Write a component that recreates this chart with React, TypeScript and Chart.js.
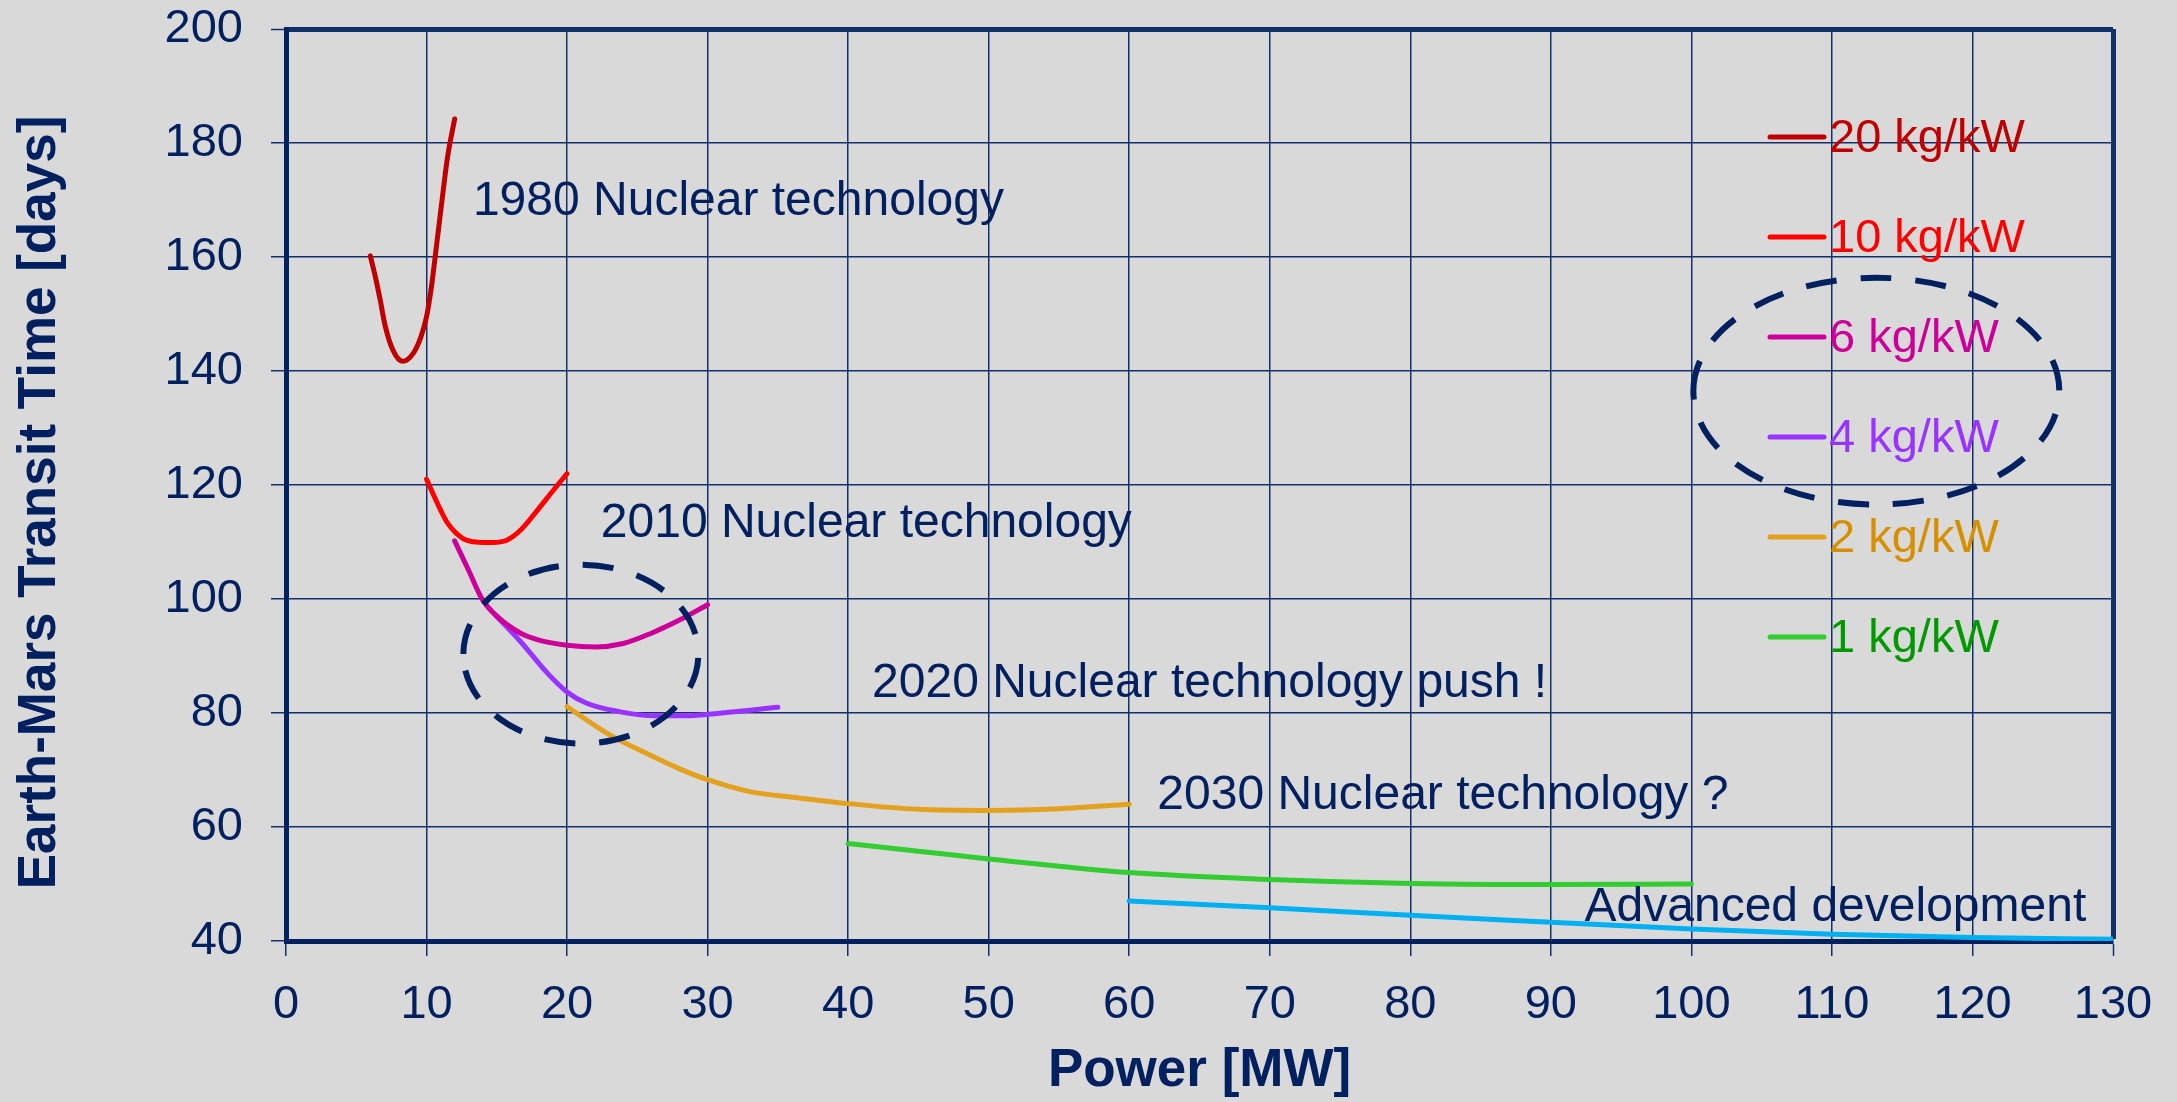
import React, { useEffect, useRef } from 'react';
import { Chart, registerables } from 'chart.js';
Chart.register(...registerables);

// ---------- data ----------
const seriesLabels = ['20 kg/kW', '10 kg/kW', '6 kg/kW', '4 kg/kW', '2 kg/kW', '1 kg/kW'];
const advancedLabel = 'Advanced development';

const p20x = [6, 6.35, 6.7, 7.05, 7.6, 8.3, 9.05, 9.6, 10, 10.35, 10.7, 11.05, 11.5, 12];
const p20y = [160.2, 156.6, 152.5, 148, 143.7, 141.7, 143.1, 146, 149.5, 154.8, 161.8, 168.9, 177.6, 184.2];

const p10x = [10, 11, 11.5, 12.6, 13.5, 14.7, 15.7, 16.7, 17.9, 19, 20];
const p10y = [121, 115.6, 113.3, 110.6, 110, 109.9, 110.3, 112.1, 115.6, 119, 122];

const p6x = [12, 13, 14, 15, 16.7, 18, 20, 22, 24, 26, 28, 30];
const p6y = [110.2, 105, 99.8, 97, 94, 92.8, 91.9, 91.6, 92.2, 94, 96.3, 99];

const p4x = [14.9, 16.7, 18.6, 20, 21.4, 23.8, 26.2, 28.5, 31, 35];
const p4y = [97.2, 92.5, 87, 83.7, 81.7, 80.2, 79.5, 79.5, 80, 81];

const p2x = [20, 23, 26, 28, 30, 33, 36.5, 40, 45, 50, 55, 60];
const p2y = [81.1, 76.2, 72.5, 70.2, 68.3, 66.2, 65.1, 64.1, 63.1, 62.9, 63.2, 64];

const p1x = [40, 45, 50, 60, 70, 80, 90, 100];
const p1y = [57.1, 55.75, 54.4, 52, 50.8, 50.1, 49.9, 50];

const advX = [60, 70, 80, 90, 100, 110, 120, 130];
const advY = [47, 45.85, 44.5, 43.3, 42.1, 41.2, 40.6, 40.3];

const xMin = 0, xMax = 130, xStep = 10;
const yMin = 40, yMax = 200, yStep = 20;
const xTitle = 'Power [MW]';
const yTitle = 'Earth-Mars Transit Time [days]';

const annoTexts = [
  '1980 Nuclear technology',
  '2010 Nuclear technology',
  '2020 Nuclear technology push !',
  '2030 Nuclear technology ?',
  'Advanced development',
];
const annoX = [13.3, 22.4, 41.7, 62.0, 92.4];
const annoY = [167.4, 110.9, 82.8, 63.2, 43.5];

// dashed ellipses (data units)
const ellCx = [20.98, 113.16];
const ellCy = [90.33, 136.47];
const ellRx = [8.36, 13.02];
const ellRy = [15.69, 19.89];

// ---------- styles ----------
const BG = '#D9D9D9';
const NAVY = '#002060';
const GRID = '#12306A';
const FONT = '"Liberation Sans", Arial, Helvetica, sans-serif';
const lineColors = ['#C00000', '#FF0000', '#CC0099', '#9933FF', '#E3A11E', '#33CC33'];
const textColors = ['#C00000', '#FF0000', '#CC0099', '#9933FF', '#D68F00', '#009900'];
const ADV_COLOR = '#00B0F0';

const toPts = (xs: number[], ys: number[]) => xs.map((x, i) => ({ x, y: ys[i] }));

const overlayPlugin = {
  id: 'overlay',
  beforeDraw(chart: any) {
    const c = chart.ctx;
    c.save();
    c.fillStyle = BG;
    c.fillRect(0, 0, chart.width, chart.height);
    c.restore();
  },
  afterDatasetsDraw(chart: any) {
    const c = chart.ctx;
    const xs = chart.scales.x;
    const ys = chart.scales.y;
    const area = chart.chartArea;
    c.save();
    // ellipses
    c.strokeStyle = NAVY;
    c.lineWidth = 6;
    c.setLineDash([31, 24]);
    for (let i = 0; i < ellCx.length; i++) {
      const cx = xs.getPixelForValue(ellCx[i]);
      const cy = ys.getPixelForValue(ellCy[i]);
      const rx = Math.abs(xs.getPixelForValue(ellCx[i] + ellRx[i]) - cx);
      const ry = Math.abs(ys.getPixelForValue(ellCy[i] + ellRy[i]) - cy);
      c.beginPath();
      c.ellipse(cx, cy, rx, ry, 0, Math.PI, 3 * Math.PI);
      c.stroke();
    }
    c.setLineDash([]);
    // annotations
    c.fillStyle = NAVY;
    c.font = `48px ${FONT}`;
    c.textAlign = 'left';
    c.textBaseline = 'alphabetic';
    annoTexts.forEach((t, i) => {
      c.fillText(t, xs.getPixelForValue(annoX[i]), ys.getPixelForValue(annoY[i]));
    });
    // legend
    const lx0 = area.right - 343;
    const lx1 = area.right - 289;
    const tx = area.right - 284;
    const ry0 = area.top + 108;
    const gap = 100;
    c.font = `47px ${FONT}`;
    chart.data.datasets.forEach((ds: any, i: number) => {
      if (!seriesLabels.includes(ds.label)) return;
      const y = ry0 + i * gap;
      c.strokeStyle = ds.borderColor;
      c.lineWidth = 5;
      c.lineCap = 'round';
      c.beginPath();
      c.moveTo(lx0, y);
      c.lineTo(lx1, y);
      c.stroke();
      c.fillStyle = textColors[i];
      c.fillText(ds.label, tx, y + 14.5);
    });
    // y axis title
    c.fillStyle = NAVY;
    c.font = `bold 53px ${FONT}`;
    c.textAlign = 'center';
    c.textBaseline = 'alphabetic';
    c.translate(55, 502.5);
    c.rotate(-Math.PI / 2);
    c.fillText(yTitle, 0, 0);
    c.restore();
  },
};

export default function App() {
  const ref = useRef<HTMLCanvasElement>(null);
  useEffect(() => {
    document.body.style.margin = '0';
    document.body.style.background = BG;
    const seriesX = [p20x, p10x, p6x, p4x, p2x, p1x];
    const seriesY = [p20y, p10y, p6y, p4y, p2y, p1y];
    const datasets: any[] = seriesLabels.map((label, i) => ({
      label,
      data: toPts(seriesX[i], seriesY[i]),
      borderColor: lineColors[i],
      backgroundColor: lineColors[i],
      borderWidth: 5,
      pointRadius: 0,
      fill: false,
      tension: 0.4,
      cubicInterpolationMode: 'monotone',
      borderCapStyle: 'round',
    }));
    datasets.push({
      label: advancedLabel,
      data: toPts(advX, advY),
      borderColor: ADV_COLOR,
      backgroundColor: ADV_COLOR,
      borderWidth: 5,
      pointRadius: 0,
      fill: false,
      tension: 0.4,
      cubicInterpolationMode: 'monotone',
      borderCapStyle: 'round',
    });
    const chart = new Chart(ref.current!, {
      type: 'line',
      data: { datasets },
      plugins: [overlayPlugin],
      options: {
        animation: false,
        responsive: false,
        devicePixelRatio: 1,
        layout: { padding: { top: 29, right: 64, left: 0, bottom: 0 } },
        plugins: { legend: { display: false }, tooltip: { enabled: false } },
        scales: {
          x: {
            type: 'linear',
            min: xMin,
            max: xMax,
            afterFit: (s: any) => { s.height = 161; s.paddingLeft = 0; s.paddingRight = 0; },
            ticks: { stepSize: xStep, color: NAVY, font: { size: 47, family: FONT }, padding: 21, maxRotation: 0, autoSkip: false },
            grid: {
              color: GRID,
              lineWidth: (ctx: any) => (ctx.tick && ctx.tick.value === xMax ? 5 : 1.5),
              tickWidth: 1.5,
              tickColor: GRID,
              tickLength: 15,
            },
            border: { display: true, color: NAVY, width: 5 },
            title: { display: true, text: xTitle, color: NAVY, font: { size: 53, weight: 'bold', family: FONT, lineHeight: 1 }, padding: { top: 0, bottom: 4 } },
          },
          y: {
            type: 'linear',
            min: yMin,
            max: yMax,
            afterFit: (s: any) => { s.width = 286; s.paddingTop = 0; s.paddingBottom = 0; },
            ticks: { stepSize: yStep, color: NAVY, font: { size: 47, family: FONT }, padding: 28 },
            grid: {
              color: GRID,
              lineWidth: (ctx: any) => (ctx.tick && ctx.tick.value === yMax ? 5 : 1.5),
              tickWidth: 1.5,
              tickColor: GRID,
              tickLength: 15,
            },
            border: { display: true, color: NAVY, width: 5 },
            title: { display: false, text: yTitle },
          },
        },
      } as any,
    });
    return () => chart.destroy();
  }, []);
  return <canvas ref={ref} width={2177} height={1102} style={{ display: 'block' }} />;
}
